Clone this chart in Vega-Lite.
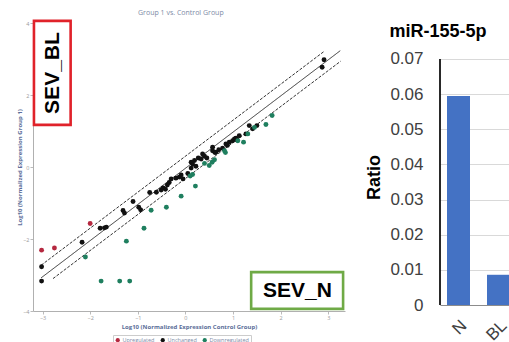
{
  "$schema": "https://vega.github.io/schema/vega-lite/v6.json",
  "background": "white",
  "padding": {"left": 16, "top": 8, "right": 0, "bottom": 0},
  "spacing": 20,
  "config": {"view": {"stroke": null}, "font": "Liberation Sans"},
  "datasets": {
    "pts": [
      {"x": -3.02, "y": -2.31, "status": "Upregulated"},
      {"x": -2.75, "y": -2.25, "status": "Upregulated"},
      {"x": -2.0, "y": -1.57, "status": "Upregulated"},
      {"x": -3.02, "y": -2.77, "status": "Unchanged"},
      {"x": -3.02, "y": -3.17, "status": "Unchanged"},
      {"x": -2.17, "y": -2.09, "status": "Unchanged"},
      {"x": -1.79, "y": -1.7, "status": "Unchanged"},
      {"x": -1.7, "y": -1.69, "status": "Unchanged"},
      {"x": -1.66, "y": -1.67, "status": "Unchanged"},
      {"x": -1.31, "y": -1.21, "status": "Unchanged"},
      {"x": -1.28, "y": -1.28, "status": "Unchanged"},
      {"x": -1.1, "y": -0.96, "status": "Unchanged"},
      {"x": -0.98, "y": -1.12, "status": "Unchanged"},
      {"x": -0.94, "y": -1.19, "status": "Unchanged"},
      {"x": -0.75, "y": -0.71, "status": "Unchanged"},
      {"x": -0.61, "y": -0.7, "status": "Unchanged"},
      {"x": -0.51, "y": -0.64, "status": "Unchanged"},
      {"x": -0.47, "y": -0.58, "status": "Unchanged"},
      {"x": -0.42, "y": -0.62, "status": "Unchanged"},
      {"x": -0.38, "y": -0.5, "status": "Unchanged"},
      {"x": -0.34, "y": -0.43, "status": "Unchanged"},
      {"x": -0.3, "y": -0.33, "status": "Unchanged"},
      {"x": -0.2, "y": -0.31, "status": "Unchanged"},
      {"x": -0.13, "y": -0.28, "status": "Unchanged"},
      {"x": -0.09, "y": -0.22, "status": "Unchanged"},
      {"x": -0.05, "y": -0.33, "status": "Unchanged"},
      {"x": 0.05, "y": -0.18, "status": "Unchanged"},
      {"x": 0.12, "y": -0.03, "status": "Unchanged"},
      {"x": 0.12, "y": 0.13, "status": "Unchanged"},
      {"x": 0.15, "y": 0.08, "status": "Unchanged"},
      {"x": 0.19, "y": 0.18, "status": "Unchanged"},
      {"x": 0.22, "y": 0.02, "status": "Unchanged"},
      {"x": 0.27, "y": 0.25, "status": "Unchanged"},
      {"x": 0.33, "y": 0.22, "status": "Unchanged"},
      {"x": 0.36, "y": 0.36, "status": "Unchanged"},
      {"x": 0.4, "y": 0.3, "status": "Unchanged"},
      {"x": 0.45, "y": 0.25, "status": "Unchanged"},
      {"x": 0.57, "y": 0.55, "status": "Unchanged"},
      {"x": 0.57, "y": 0.45, "status": "Unchanged"},
      {"x": 0.62, "y": 0.4, "status": "Unchanged"},
      {"x": 0.64, "y": 0.41, "status": "Unchanged"},
      {"x": 0.7, "y": 0.48, "status": "Unchanged"},
      {"x": 0.78, "y": 0.52, "status": "Unchanged"},
      {"x": 0.85, "y": 0.64, "status": "Unchanged"},
      {"x": 0.88, "y": 0.6, "status": "Unchanged"},
      {"x": 0.92, "y": 0.69, "status": "Unchanged"},
      {"x": 0.99, "y": 0.73, "status": "Unchanged"},
      {"x": 1.03, "y": 0.78, "status": "Unchanged"},
      {"x": 1.06, "y": 0.8, "status": "Unchanged"},
      {"x": 1.08, "y": 0.75, "status": "Unchanged"},
      {"x": 1.13, "y": 0.87, "status": "Unchanged"},
      {"x": 1.27, "y": 0.92, "status": "Unchanged"},
      {"x": 1.34, "y": 1.15, "status": "Unchanged"},
      {"x": 1.41, "y": 1.06, "status": "Unchanged"},
      {"x": 1.5, "y": 1.15, "status": "Unchanged"},
      {"x": 2.91, "y": 2.98, "status": "Unchanged"},
      {"x": 2.87, "y": 2.77, "status": "Unchanged"},
      {"x": -2.1, "y": -2.5, "status": "Downregulated"},
      {"x": -1.77, "y": -3.17, "status": "Downregulated"},
      {"x": -1.38, "y": -3.17, "status": "Downregulated"},
      {"x": -1.17, "y": -3.17, "status": "Downregulated"},
      {"x": -1.24, "y": -2.06, "status": "Downregulated"},
      {"x": -0.87, "y": -1.7, "status": "Downregulated"},
      {"x": -0.72, "y": -1.2, "status": "Downregulated"},
      {"x": -0.4, "y": -1.12, "status": "Downregulated"},
      {"x": -0.09, "y": -0.81, "status": "Downregulated"},
      {"x": 0.21, "y": -0.53, "status": "Downregulated"},
      {"x": 0.15, "y": -0.21, "status": "Downregulated"},
      {"x": 0.1, "y": -0.25, "status": "Downregulated"},
      {"x": 0.4, "y": 0.1, "status": "Downregulated"},
      {"x": 0.5, "y": 0.04, "status": "Downregulated"},
      {"x": 0.56, "y": 0.13, "status": "Downregulated"},
      {"x": 0.61, "y": 0.2, "status": "Downregulated"},
      {"x": 0.82, "y": 0.45, "status": "Downregulated"},
      {"x": 0.84, "y": 0.4, "status": "Downregulated"},
      {"x": 1.1, "y": 0.73, "status": "Downregulated"},
      {"x": 1.22, "y": 0.69, "status": "Downregulated"},
      {"x": 1.31, "y": 0.92, "status": "Downregulated"},
      {"x": 1.45, "y": 1.1, "status": "Downregulated"},
      {"x": 1.69, "y": 1.18, "status": "Downregulated"},
      {"x": 1.82, "y": 1.43, "status": "Downregulated"}
    ],
    "lines": [
      {"series": "upper", "x": -3.03, "y": -2.73},
      {"series": "upper", "x": 2.91, "y": 3.21},
      {"series": "mid", "x": -3.03, "y": -3.08},
      {"series": "mid", "x": 3.25, "y": 3.23},
      {"series": "lower", "x": -2.78, "y": -3.1},
      {"series": "lower", "x": 3.26, "y": 2.94}
    ],
    "boxes": [
      {"label": "SEV_BL", "x1": -3.18, "x2": -2.41, "y1": 1.17, "y2": 4.06, "tx": -2.79, "ty": 2.61},
      {"label": "SEV_N", "x1": 1.38, "x2": 3.31, "y1": -3.94, "y2": -2.92, "tx": 2.35, "ty": -3.44}
    ],
    "bars": [
      {"cat": "N", "ratio": 0.0595},
      {"cat": "BL", "ratio": 0.0086}
    ]
  },
  "hconcat": [
    {
      "width": 312,
      "height": 288,
      "title": {"text": "Group 1 vs. Control Group", "fontSize": 7, "fontWeight": "normal", "color": "#7d8aa6", "font": "Open Sans", "offset": 4, "frame": "bounds", "anchor": "middle"},
      "layer": [
        {
          "data": {"name": "lines"},
          "mark": {"type": "line", "strokeWidth": 1},
          "encoding": {
            "x": {"field": "x", "type": "quantitative", "scale": {"domain": [-3.2, 3.35], "nice": false, "zero": false},
              "axis": {"values": [-3, -2, -1, 0, 1, 2, 3], "grid": false, "labelFontSize": 5.5, "labelColor": "#9a9a9a", "labelFont": "Open Sans", "tickColor": "#bbbbbb", "tickSize": 3, "domainColor": "#b0b0b0", "labelPadding": 1,
                "title": "Log10 (Normalized Expression Control Group)", "titleFont": "Open Sans", "titleFontSize": 6, "titleFontWeight": "bold", "titleColor": "#5b6e99", "titlePadding": 3}},
            "y": {"field": "y", "type": "quantitative", "scale": {"domain": [-4, 4], "nice": false, "zero": false},
              "axis": {"values": [-4, -3, -2, -1, 0, 1, 2, 3, 4], "grid": false, "labelFontSize": 5.5, "labelColor": "#9a9a9a", "labelFont": "Open Sans", "tickColor": "#bbbbbb", "tickSize": 3, "domainColor": "#b0b0b0", "labelPadding": 1,
                "title": "Log10 (Normalized Expression Group 1)", "titleFont": "Open Sans", "titleFontSize": 6, "titleFontWeight": "bold", "titleColor": "#5b6e99", "titlePadding": 0}},
            "detail": {"field": "series", "type": "nominal"},
            "strokeDash": {"field": "series", "type": "nominal", "scale": {"domain": ["upper", "mid", "lower"], "range": [[3, 1.5], [1, 0], [3, 1.5]]}, "legend": null},
            "color": {"value": "#333333"}
          }
        },
        {
          "data": {"name": "pts"},
          "mark": {"type": "circle", "size": 24, "opacity": 1},
          "encoding": {
            "x": {"field": "x", "type": "quantitative"},
            "y": {"field": "y", "type": "quantitative"},
            "color": {"field": "status", "type": "nominal",
              "scale": {"domain": ["Upregulated", "Unchanged", "Downregulated"], "range": ["#b5283f", "#111111", "#1f7f5f"]},
              "legend": {"orient": "none", "legendX": 80, "legendY": 312, "direction": "horizontal", "title": null, "strokeColor": "#cccccc", "padding": 2, "labelFontSize": 5.5, "labelFont": "Open Sans", "labelColor": "#7d8aa6", "symbolSize": 18, "symbolType": "circle", "columnPadding": 5, "labelOffset": 2, "symbolStrokeWidth": 0}}
          }
        },
        {
          "data": {"name": "boxes"},
          "mark": {"type": "rect", "fill": "white", "strokeWidth": 2.6},
          "encoding": {
            "x": {"field": "x1", "type": "quantitative"},
            "x2": {"field": "x2"},
            "y": {"field": "y1", "type": "quantitative"},
            "y2": {"field": "y2"},
            "stroke": {"field": "label", "type": "nominal", "scale": {"domain": ["SEV_BL", "SEV_N"], "range": ["#e0222a", "#6faa46"]}, "legend": null}
          }
        },
        {
          "data": {"name": "boxes"},
          "transform": [{"filter": "datum.label == 'SEV_BL'"}],
          "mark": {"type": "text", "angle": 270, "fontSize": 21, "fontWeight": "bold", "font": "Liberation Sans", "color": "#000000", "align": "center", "baseline": "middle"},
          "encoding": {
            "x": {"field": "tx", "type": "quantitative"},
            "y": {"field": "ty", "type": "quantitative"},
            "text": {"field": "label"}
          }
        },
        {
          "data": {"name": "boxes"},
          "transform": [{"filter": "datum.label == 'SEV_N'"}],
          "mark": {"type": "text", "fontSize": 21, "fontWeight": "bold", "font": "Liberation Sans", "color": "#000000", "align": "center", "baseline": "middle"},
          "encoding": {
            "x": {"field": "tx", "type": "quantitative"},
            "y": {"field": "ty", "type": "quantitative"},
            "text": {"field": "label"}
          }
        }
      ]
    },
    {
      "width": 70,
      "height": 282,
      "data": {"name": "bars"},
      "title": {"text": "miR-155-5p", "fontSize": 18, "fontWeight": "bold", "font": "Liberation Sans", "color": "#000000", "anchor": "middle", "frame": "bounds", "offset": -18},
      "layer": [
        {
          "mark": {"type": "bar", "color": "#4472c4"},
          "encoding": {
            "x": {"field": "cat", "type": "nominal", "sort": ["N", "BL"],
              "scale": {"paddingInner": 0.425, "paddingOuter": 0.0875, "align": 1},
              "axis": {"title": null, "labelAngle": -45, "labelFontSize": 17, "labelColor": "#404040", "ticks": false, "domainColor": "#8c8c8c", "labelPadding": 12, "labelDx": -10.5, "labelDy": -3.5}},
            "y": {"field": "ratio", "type": "quantitative", "scale": {"domain": [0, 0.08024], "nice": false},
              "axis": {"values": [0, 0.01, 0.02, 0.03, 0.04, 0.05, 0.06, 0.07], "format": ".2~f", "labelFontSize": 17, "labelColor": "#404040", "ticks": false, "labelPadding": 17, "domain": false, "gridColor": "#d9d9d9",
                "title": "Ratio", "titleFontSize": 18, "titleFontWeight": "bold", "titleColor": "#000000", "titlePadding": 6, "titleY": 154}}
          }
        },
        {
          "mark": {"type": "rule", "color": "#000000", "strokeWidth": 1.2},
          "encoding": {
            "x": {"datum": "N", "type": "nominal", "bandPosition": -0.3043},
            "y": {"datum": 0, "type": "quantitative"},
            "y2": {"datum": 0.07}
          }
        }
      ]
    }
  ]
}
